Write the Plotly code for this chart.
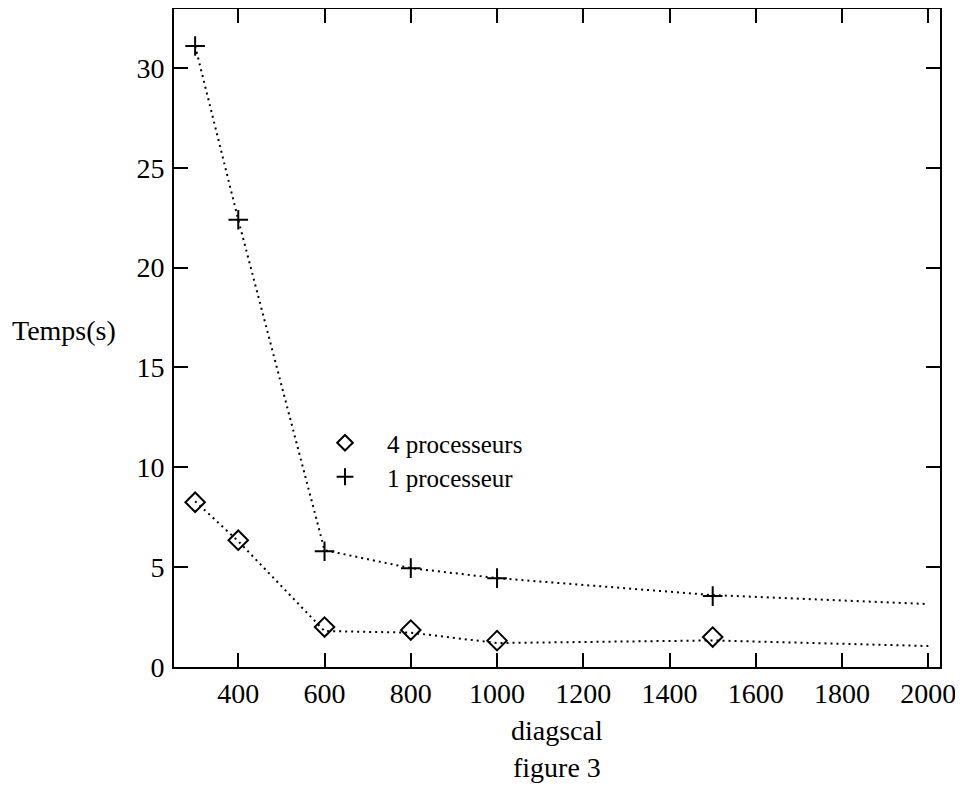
import plotly.graph_objects as go

# data
x_pts = [300, 400, 600, 800, 1000, 1500]
p4_pts = [8.25, 6.35, 2.0, 1.85, 1.32, 1.5]
p1_pts = [31.1, 22.4, 5.8, 4.95, 4.45, 3.55]

x_line = [300, 400, 600, 800, 1000, 1500, 2000]
p4_line = [8.3, 6.3, 1.8, 1.72, 1.2, 1.33, 1.05]
p1_line = [31.1, 22.4, 5.85, 4.95, 4.45, 3.6, 3.15]

x_ticks = [400, 600, 800, 1000, 1200, 1400, 1600, 1800, 2000]
y_ticks = [0, 5, 10, 15, 20, 25, 30]

FONT = "Liberation Serif"
dot = "2px,4px"

# page body has an 8px margin; work in page pixels and convert
OFF = 8
W, H = 963, 794
L, T = 174 - OFF, 9 - OFF
PB = 667 - OFF          # plot bottom in figure px
PR = 940 - OFF          # plot right in figure px
R, B = W - PR, H - PB
plot_w = PR - L
plot_h = PB - T


def px(page_x):
    return (page_x - OFF - L) / plot_w


def py(page_y):
    return (PB - (page_y - OFF)) / plot_h


fig = go.Figure()
fig.add_trace(go.Scatter(x=x_line, y=p4_line, mode="lines", showlegend=False,
                         line=dict(color="black", width=2, dash=dot), hoverinfo="skip"))
fig.add_trace(go.Scatter(x=x_line, y=p1_line, mode="lines", showlegend=False,
                         line=dict(color="black", width=2, dash=dot), hoverinfo="skip"))
fig.add_trace(go.Scatter(x=x_pts, y=p4_pts, mode="markers", name="4 processeurs",
                         legend="legend",
                         marker=dict(symbol="diamond-open", size=15, color="black",
                                     line=dict(width=2, color="black"))))
fig.add_trace(go.Scatter(x=x_pts, y=p1_pts, mode="markers", name="1 processeur",
                         legend="legend2",
                         marker=dict(symbol="cross-thin-open", size=14, color="black",
                                     line=dict(width=2, color="black"))))

axis_common = dict(showline=True, linecolor="black", linewidth=2, mirror="ticks",
                   ticks="inside", ticklen=14, tickwidth=2, tickcolor="black",
                   showgrid=False, zeroline=False,
                   tickfont=dict(family=FONT, size=28, color="black"))

fig.update_xaxes(range=[251, 2027], tickvals=x_ticks, ticklabelstandoff=0, **axis_common)
fig.update_yaxes(range=[0, 32.95], tickvals=y_ticks, ticklabelstandoff=2, **axis_common)

leg_common = dict(xanchor="left", yanchor="middle", bgcolor="rgba(0,0,0,0)",
                  borderwidth=0, itemwidth=74, itemsizing="constant",
                  font=dict(family=FONT, size=25, color="black"))
leg_x = px(345 - 42)

fig.update_layout(
    width=W, height=H,
    margin=dict(l=L, r=R, t=T, b=B, autoexpand=False),
    plot_bgcolor="white", paper_bgcolor="white",
    font=dict(family=FONT, size=28, color="black"),
    legend=dict(x=leg_x, y=py(443), **leg_common),
    legend2=dict(x=leg_x, y=py(477), **leg_common),
    annotations=[
        dict(text="Temps(s)", x=px(10), y=py(330), xref="paper", yref="paper",
             showarrow=False, xanchor="left", yanchor="middle",
             font=dict(family=FONT, size=28)),
        dict(text="diagscal", x=0.5, y=py(730), xref="paper", yref="paper",
             showarrow=False, xanchor="center", yanchor="middle",
             font=dict(family=FONT, size=28)),
        dict(text="figure 3", x=0.5, y=py(767), xref="paper", yref="paper",
             showarrow=False, xanchor="center", yanchor="middle",
             font=dict(family=FONT, size=28)),
    ],
)

fig.write_html("out.html")
